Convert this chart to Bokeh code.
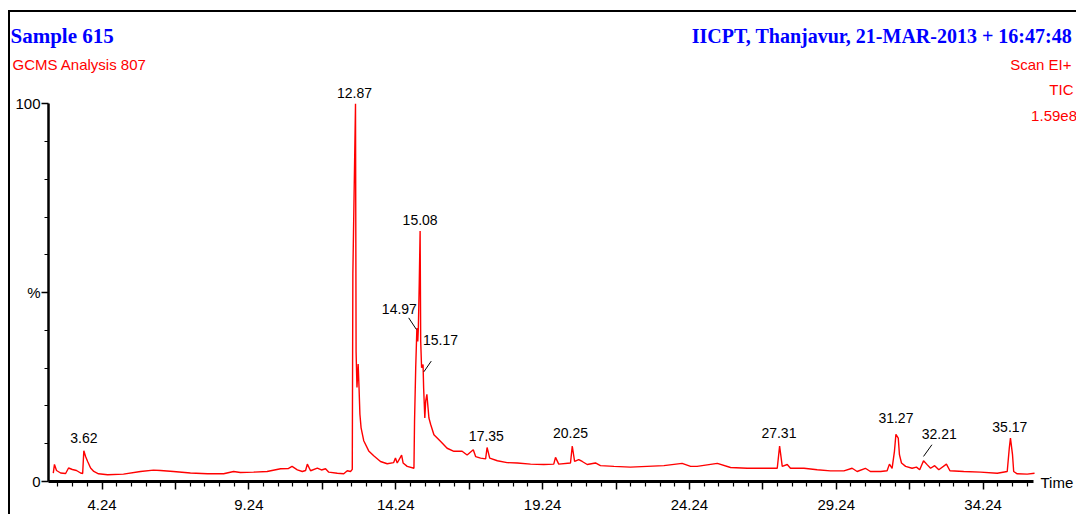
import numpy as np
from bokeh.plotting import figure
from bokeh.models import Range1d, FixedTicker, Label, ColumnDataSource
from bokeh.embed import file_html
from bokeh.resources import INLINE
from bokeh.core.properties import value

# ---------------- data ----------------
time_min = [
    2.58, 2.62, 2.69, 2.83, 3.00, 3.10, 3.23, 3.37, 3.51, 3.58, 3.62, 3.68, 3.75, 3.85, 3.96,
    4.12, 4.43, 4.97, 5.55, 5.99, 6.23, 6.67, 7.25, 7.83, 8.38, 8.72, 8.95,
    9.40, 9.86, 10.32, 10.59, 10.71, 10.89, 11.06, 11.17, 11.23, 11.34, 11.57, 11.71, 11.85,
    11.96, 12.25, 12.47, 12.59, 12.70, 12.76,
    12.78, 12.87, 12.89, 12.92, 12.96, 12.99, 13.02, 13.06, 13.15, 13.32, 13.49, 13.72, 13.95,
    14.17, 14.23, 14.29, 14.44, 14.49, 14.63, 14.86, 14.88, 14.92, 14.96, 14.99, 15.01, 15.04,
    15.07, 15.09, 15.12, 15.17, 15.19, 15.23, 15.26, 15.30, 15.33, 15.37, 15.43, 15.54, 15.77,
    15.99, 16.22, 16.50, 16.67, 16.88, 16.96, 17.13, 17.30, 17.35, 17.44, 17.70, 18.03, 18.38,
    18.83, 19.28, 19.62, 19.68, 19.79, 20.19, 20.25, 20.33, 20.47, 20.59, 20.76, 21.04, 21.21,
    21.67, 22.23,
    22.80, 23.37, 23.99, 24.28, 24.50, 25.19, 25.64, 26.21, 26.77, 27.23, 27.31, 27.40, 27.57,
    27.68, 28.14, 28.59, 29.04,
    29.50, 29.78, 29.95, 30.23, 30.40, 30.75, 30.97, 31.05, 31.14, 31.22, 31.27, 31.35, 31.39,
    31.46, 31.60, 31.82, 31.97, 32.08, 32.21, 32.34, 32.45, 32.59, 32.73, 32.99, 33.11, 33.58,
    34.15, 34.72, 35.06, 35.13, 35.17, 35.24, 35.28, 35.40, 35.74, 35.99,
]
intensity_pct = [
    2.20, 4.51, 2.92, 2.25, 2.12, 3.58, 3.18, 2.92, 2.25, 2.12, 8.14, 6.63, 5.31, 3.58, 2.65,
    2.04, 1.78, 1.94, 2.65, 3.00, 2.92, 2.65, 2.25, 2.04, 2.04, 2.65, 2.39,
    2.47, 2.65, 3.37, 3.45, 3.98, 3.10, 2.65, 2.92, 4.59, 2.84, 3.53, 3.05, 3.37,
    2.47, 2.20, 2.04, 2.84, 2.65, 3.20,
    55.0, 100.0, 34.3, 24.9, 31.1, 24.9, 17.8, 14.2, 10.8, 8.1, 6.8, 5.3, 4.7,
    5.0, 6.2, 4.9, 7.0, 4.9, 4.0, 3.5, 15.9, 30.1, 40.6, 37.1, 40.6, 52.3,
    66.3, 37.1, 30.1, 31.0, 24.7, 16.8, 21.3, 23.1, 20.4, 16.8, 15.1, 12.4, 10.6,
    8.8, 8.0, 8.0, 7.0, 8.4, 6.6, 6.2, 6.0, 9.0, 6.2, 5.5, 5.0, 4.9,
    4.6, 4.5, 4.6, 6.4, 4.6, 4.9, 9.4, 5.3, 5.8, 5.3, 4.5, 4.9, 4.2,
    4.0, 3.8,
    4.0, 4.2, 4.8, 4.0, 4.0, 4.8, 3.7, 3.5, 3.5, 3.5, 9.4, 4.0, 4.5,
    3.5, 3.5, 3.1, 2.8,
    2.8, 3.5, 2.65, 3.5, 2.65, 2.65, 2.84, 4.6, 3.5, 8.0, 12.5, 11.5, 7.1,
    4.9, 4.0, 3.5, 3.8, 3.1, 5.5, 4.4, 3.5, 4.2, 3.1, 4.6, 2.84, 2.65,
    2.47, 2.20, 2.65, 8.8, 11.5, 7.1, 2.65, 2.04, 1.94, 2.20,
]

peak_labels = ["3.62", "12.87", "14.97", "15.08", "15.17", "17.35", "20.25",
               "27.31", "31.27", "32.21", "35.17"]
peak_time = [3.62, 12.87, 14.96, 15.07, 15.17, 17.35, 20.25, 27.31, 31.27, 32.21, 35.17]
peak_height = [8.1, 100.0, 40.6, 66.3, 31.0, 9.0, 9.4, 9.4, 12.5, 5.5, 11.5]

x_major_ticks = [4.24, 6.74, 9.24, 11.74, 14.24, 16.74, 19.24, 21.74, 24.24,
                 26.74, 29.24, 31.74, 34.24]
x_labeled_ticks = [4.24, 9.24, 14.24, 19.24, 24.24, 29.24, 34.24]
y_ticks = [0, 50, 100]
y_tick_labels = ["0", "%", "100"]

title_left = "Sample 615"
title_right = "IICPT, Thanjavur,  21-MAR-2013 + 16:47:48"
sub_left = "GCMS Analysis 807"
sub_right = ["Scan EI+", "TIC", "1.59e8"]
axis_title = "Time"

# ---------------- layout / style ----------------
SANS = "Liberation Sans"
SERIF = "Liberation Serif"
RED = "#ff0000"
BLUE = "#0000ff"

OFF_X, OFF_Y = 10, 12              # canvas origin on the page (after css margin + border)
W, H = 1068, 504
PX_T = 29.37                       # pixels per minute
PX_P = 3.777                       # pixels per percent
AXIS_PAGE_X = 48                   # page x of the intensity axis
ZERO_PAGE_Y = 481                  # page y of 0 %
T_AXIS = 2.417                     # time at the intensity axis
T_END = 35.96                      # end of the time axis line

X0 = T_AXIS - (AXIS_PAGE_X - OFF_X) / PX_T
X1 = X0 + W / PX_T
Y0 = -(OFF_Y + H - ZERO_PAGE_Y) / PX_P
Y1 = Y0 + H / PX_P


def tx(page_x):
    return T_AXIS + (page_x - AXIS_PAGE_X) / PX_T


def py(page_y):
    return (ZERO_PAGE_Y - page_y) / PX_P


p = figure(width=W, height=H, output_backend="svg", toolbar_location=None,
           x_range=Range1d(X0, X1), y_range=Range1d(Y0, Y1),
           min_border=0, min_border_left=0, min_border_right=0,
           min_border_top=0, min_border_bottom=0)
p.styles = {"border-top": "2px solid #000", "border-left": "2px solid #000",
            "margin-top": "10px", "margin-left": "8px", "margin-bottom": "-12px"}
p.background_fill_color = "white"
p.border_fill_color = "white"
p.outline_line_color = None
p.xgrid.visible = False
p.ygrid.visible = False

# chromatogram
src = ColumnDataSource(dict(t=time_min, i=intensity_pct))
p.line("t", "i", source=src, line_color=RED, line_width=1.4)

# peak labels: offsets (screen px) relative to the apex
lab_dx = [0, -1, -17.5, 0, 17.5, -0.7, -1.7, -0.7, 0, 15.7, -0.6]
lab_dy = [-12.5, -11, -19.5, -11, -24, -12, -12.5, -12.5, -16, -26.3, -10.7]
lsrc = ColumnDataSource(dict(x=peak_time, y=peak_height, text=peak_labels, dx=lab_dx, dy=lab_dy))
p.text("x", "y", text="text", source=lsrc, x_offset="dx", y_offset="dy",
       text_align="center", text_baseline="middle", text_color="black",
       text_font=value(SANS), text_font_size="14px")

# leader lines for the crowded labels (start/end offsets in px from apex)
leaders = {"14.97": ((-8.2, -10.3), (-0.5, 1.3)),
           "15.17": ((8.2, -3.3), (0.8, 7.4)),
           "32.21": ((8.4, -16.0), (0.0, -4.3))}
lx0, ly0, lx1, ly1 = [], [], [], []
for name, ((sx0, sy0), (sx1, sy1)) in leaders.items():
    k = peak_labels.index(name)
    lx0.append(peak_time[k] + sx0 / PX_T)
    ly0.append(peak_height[k] - sy0 / PX_P)
    lx1.append(peak_time[k] + sx1 / PX_T)
    ly1.append(peak_height[k] - sy1 / PX_P)
p.segment(lx0, ly0, lx1, ly1, line_color="black", line_width=1)

# x axis (drawn at 0 %)
minor = [round(v, 2) for v in np.arange(2.74, 35.75, 0.5) if round(v, 2) not in x_major_ticks]
xa = p.xaxis[0]
xa.fixed_location = 0
xa.ticker = FixedTicker(ticks=x_major_ticks, minor_ticks=minor)
xa.major_label_overrides = {t: (f"{t:.2f}" if t in x_labeled_ticks else "") for t in x_major_ticks}
xa.bounds = (T_AXIS, T_END)
xa.axis_line_width = 3
xa.axis_line_color = "black"
xa.major_tick_line_width = 1.5
xa.minor_tick_line_width = 1.2
xa.major_tick_out = 8
xa.major_tick_in = 0
xa.minor_tick_out = 5
xa.minor_tick_in = 0
xa.major_label_standoff = 10
xa.major_label_text_font = SANS
xa.major_label_text_font_size = "15px"
xa.major_label_text_color = "black"

# y axis (drawn at the start of the time axis)
ya = p.yaxis[0]
ya.fixed_location = T_AXIS
ya.ticker = FixedTicker(ticks=y_ticks, minor_ticks=[10, 20, 30, 40, 60, 70, 80, 90])
ya.major_label_overrides = dict(zip(y_ticks, y_tick_labels))
ya.bounds = (0, 100)
ya.axis_line_width = 2.5
ya.axis_line_color = "black"
ya.major_tick_line_width = 1.5
ya.minor_tick_line_width = 1.2
ya.major_tick_out = 7
ya.major_tick_in = 0
ya.minor_tick_out = 4
ya.minor_tick_in = 0
ya.major_label_standoff = 1
ya.major_label_text_font = SANS
ya.major_label_text_font_size = "15px"
ya.major_label_text_color = "black"

# header texts and axis title
p.add_layout(Label(x=tx(10), y=py(35), text=title_left, text_font=SERIF, text_font_style="bold",
                   text_font_size="21px", text_color=BLUE, text_align="left",
                   text_baseline="alphabetic"))
p.add_layout(Label(x=tx(1076.5), y=py(35), text=title_right, text_font=SERIF, text_font_style="bold",
                   text_font_size="20px", text_color=BLUE, text_align="right",
                   text_baseline="alphabetic"))
p.add_layout(Label(x=tx(12), y=py(63.5), text=sub_left, text_font=SANS, text_font_size="15px",
                   text_color=RED, text_align="left", text_baseline="middle"))
for txt, xr, yc in zip(sub_right, [1071, 1073, 1076.5], [63.5, 89, 115]):
    p.add_layout(Label(x=tx(xr), y=py(yc), text=txt, text_font=SANS, text_font_size="15px",
                       text_color=RED, text_align="right", text_baseline="middle"))
p.add_layout(Label(x=tx(1040), y=py(482), text=axis_title, text_font=SANS, text_font_size="15px",
                   text_color="black", text_align="left", text_baseline="middle"))

open("out.html", "w").write(file_html(p, INLINE))
